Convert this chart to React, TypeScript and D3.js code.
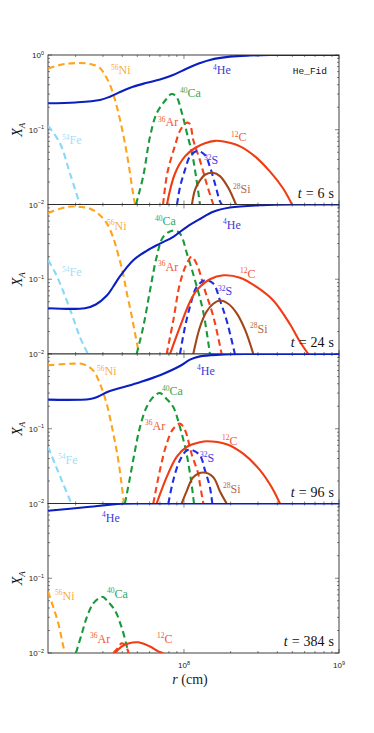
import React from "react";
import * as d3 from "d3";

const W = 374, H = 733;
const left = 48, right = 339, top0 = 55, panelH = 149.5;

type Pt = [number, number];

// t = 6 s
const he6: Pt[] = [[1.33e7,0.226],[2.0e7,0.232],[2.87e7,0.25],[3.33e7,0.277],[3.87e7,0.32],[4.69e7,0.377],[5.77e7,0.425],[7.0e7,0.47],[8.5e7,0.54],[1.045e8,0.66],[1.27e8,0.78],[1.47e8,0.86],[1.98e8,0.95],[2.67e8,0.985],[3.6e8,1.0],[1e9,1.0]];
const ni6: Pt[] = [[1.33e7,0.66],[1.71e7,0.76],[2.48e7,0.76],[2.87e7,0.67],[3.09e7,0.54],[3.33e7,0.40],[3.59e7,0.25],[3.87e7,0.135],[4.16e7,0.066],[4.42e7,0.032],[4.69e7,0.0142],[4.83e7,0.01]];
const fe6: Pt[] = [[1.33e7,0.113],[1.585e7,0.066],[1.84e7,0.026],[2.13e7,0.01]];
const ca6: Pt[] = [[4.9e7,0.01],[5.46e7,0.024],[6.04e7,0.081],[6.67e7,0.166],[7.73e7,0.26],[8.3e7,0.30],[8.9e7,0.28],[9.7e7,0.167],[1.045e8,0.09],[1.126e8,0.049],[1.195e8,0.024],[1.268e8,0.01]];
const ar6: Pt[] = [[7.33e7,0.01],[7.8e7,0.026],[8.7e7,0.059],[9.5e7,0.1],[1.04e8,0.124],[1.09e8,0.12],[1.148e8,0.073],[1.268e8,0.039],[1.40e8,0.019],[1.545e8,0.01]];
const c6: Pt[] = [[7.76e7,0.01],[8.75e7,0.026],[1.015e8,0.044],[1.178e8,0.057],[1.365e8,0.066],[1.585e8,0.071],[1.84e8,0.069],[2.30e8,0.06],[2.87e8,0.044],[3.59e8,0.0275],[4.35e8,0.0165],[4.98e8,0.01]];
const s6: Pt[] = [[9.02e7,0.01],[9.42e7,0.017],[1.015e8,0.029],[1.093e8,0.044],[1.213e8,0.052],[1.365e8,0.046],[1.47e8,0.032],[1.585e8,0.019],[1.707e8,0.011],[1.757e8,0.01]];
const si6: Pt[] = [[1.126e8,0.01],[1.178e8,0.0157],[1.268e8,0.021],[1.365e8,0.025],[1.538e8,0.0266],[1.707e8,0.024],[1.923e8,0.017],[2.165e8,0.01]];

// t = 24 s
const he24: Pt[] = [[1.33e7,0.041],[2.3e7,0.041],[2.7e7,0.046],[3.17e7,0.06],[3.5e7,0.08],[3.87e7,0.11],[4.71e7,0.18],[5.74e7,0.24],[7.0e7,0.30],[8.53e7,0.37],[1.04e8,0.5],[1.268e8,0.64],[1.545e8,0.80],[1.98e8,0.91],[3.2e8,0.98],[5.6e8,1.0],[1e9,1.0]];
const ni24: Pt[] = [[1.33e7,0.77],[1.76e7,0.93],[2.13e7,0.93],[2.48e7,0.88],[2.87e7,0.72],[3.18e7,0.56],[3.48e7,0.37],[3.75e7,0.22],[4.04e7,0.12],[4.29e7,0.064],[4.62e7,0.031],[4.83e7,0.019],[5.13e7,0.01]];
const fe24: Pt[] = [[1.33e7,0.18],[1.47e7,0.125],[1.65e7,0.072],[1.9e7,0.033],[2.13e7,0.017],[2.4e7,0.01]];
const ca24: Pt[] = [[4.95e7,0.01],[5.46e7,0.023],[6.04e7,0.071],[6.67e7,0.2],[7.35e7,0.37],[8.53e7,0.45],[9.42e7,0.41],[1.045e8,0.22],[1.178e8,0.097],[1.327e8,0.038],[1.47e8,0.01]];
const ar24: Pt[] = [[7.73e7,0.01],[8.53e7,0.028],[9.42e7,0.088],[1.04e8,0.16],[1.12e8,0.2],[1.208e8,0.16],[1.365e8,0.071],[1.545e8,0.032],[1.75e8,0.01]];
const c24: Pt[] = [[8.13e7,0.01],[9.42e7,0.023],[1.093e8,0.05],[1.208e8,0.071],[1.47e8,0.10],[1.8e8,0.113],[2.30e8,0.105],[2.94e8,0.079],[3.77e8,0.052],[4.83e8,0.025],[5.6e8,0.0146],[6.34e8,0.01]];
const s24: Pt[] = [[9.42e7,0.01],[1.015e8,0.023],[1.093e8,0.043],[1.208e8,0.079],[1.365e8,0.097],[1.545e8,0.088],[1.707e8,0.052],[1.885e8,0.028],[2.13e8,0.01]];
const si24: Pt[] = [[1.148e8,0.01],[1.268e8,0.023],[1.40e8,0.037],[1.545e8,0.047],[1.707e8,0.052],[1.93e8,0.047],[2.19e8,0.035],[2.48e8,0.021],[2.80e8,0.01]];

// t = 96 s
const he96: Pt[] = [[1.33e7,0.245],[2.48e7,0.25],[2.8e7,0.27],[3.2e7,0.31],[3.87e7,0.35],[5.2e7,0.42],[7.0e7,0.52],[9.42e7,0.69],[1.093e8,0.84],[1.268e8,0.93],[1.707e8,0.98],[2.55e8,1.0],[1e9,1.0]];
const ni96: Pt[] = [[1.33e7,0.706],[1.84e7,0.74],[2.24e7,0.73],[2.6e7,0.6],[2.87e7,0.40],[3.17e7,0.217],[3.50e7,0.086],[3.77e7,0.038],[3.96e7,0.018],[4.10e7,0.01]];
const fe96: Pt[] = [[1.33e7,0.057],[1.47e7,0.034],[1.625e7,0.0205],[1.84e7,0.011],[1.87e7,0.01]];
const ca96: Pt[] = [[4.16e7,0.01],[4.49e7,0.0225],[4.83e7,0.051],[5.2e7,0.105],[5.74e7,0.195],[6.34e7,0.265],[7.0e7,0.30],[7.73e7,0.25],[8.53e7,0.195],[9.42e7,0.105],[1.04e8,0.046],[1.12e8,0.018],[1.16e8,0.01]];
const ar96: Pt[] = [[6.34e7,0.01],[7.0e7,0.028],[7.73e7,0.063],[8.53e7,0.1],[9.42e7,0.117],[1.015e8,0.096],[1.12e8,0.046],[1.236e8,0.025],[1.268e8,0.018],[1.333e8,0.01]];
const c96: Pt[] = [[6.67e7,0.01],[7.73e7,0.0225],[8.97e7,0.042],[1.04e8,0.057],[1.268e8,0.066],[1.40e8,0.068],[1.885e8,0.062],[2.42e8,0.046],[3.09e8,0.028],[3.68e8,0.0165],[4.16e8,0.01]];
const s96: Pt[] = [[7.93e7,0.01],[8.53e7,0.0205],[9.42e7,0.038],[1.04e8,0.051],[1.12e8,0.052],[1.268e8,0.044],[1.365e8,0.028],[1.47e8,0.0165],[1.523e8,0.01]];
const si96: Pt[] = [[9.66e7,0.01],[1.04e8,0.0145],[1.148e8,0.0225],[1.333e8,0.026],[1.545e8,0.0225],[1.707e8,0.0145],[1.885e8,0.01]];

// t = 384 s
const he384: Pt[] = [[1.33e7,0.80],[2.3e7,0.89],[4.0e7,0.99],[6e7,1.0],[1e9,1.0]];
const ni384: Pt[] = [[1.33e7,0.066],[1.435e7,0.041],[1.546e7,0.025],[1.665e7,0.0123],[1.707e7,0.01]];
const ca384: Pt[] = [[2.01e7,0.01],[2.19e7,0.018],[2.36e7,0.030],[2.6e7,0.046],[2.87e7,0.055],[3.01e7,0.056],[3.17e7,0.051],[3.59e7,0.037],[3.96e7,0.022],[4.27e7,0.0125],[4.37e7,0.01]];
const ar384: Pt[] = [[3.5e7,0.01],[3.75e7,0.0117],[3.96e7,0.0135],[4.2e7,0.0125],[4.4e7,0.01]];
const c384: Pt[] = [[3.59e7,0.01],[3.96e7,0.0122],[4.37e7,0.0134],[5.07e7,0.0139],[6.04e7,0.0122],[6.82e7,0.0105],[7.35e7,0.01]];

const times = ["6", "24", "96", "384"];

const lineColor: Record<string, string> = {
  He: "#0b1fc0", Ni: "#ffa31a", Fe: "#86d9f7", Ca: "#179a3a",
  Ar: "#f4421b", C: "#f03c12", S: "#1f2ee6", Si: "#a2461a",
};
const textColor: Record<string, string> = {
  He: "#3b3bd6", Ni: "#f7ad3c", Fe: "#9fe0f8", Ca: "#34a65a",
  Ar: "#f25638", C: "#f25638", S: "#3b3be6", Si: "#b46a42",
};
const mass: Record<string, string> = { He: "4", Ni: "56", Fe: "54", Ca: "40", Ar: "36", C: "12", S: "32", Si: "28" };

type Series = { el: string; data: Pt[]; dashed: boolean };
const panels: Series[][] = [
  [{ el: "Fe", data: fe6, dashed: true }, { el: "Ni", data: ni6, dashed: true }, { el: "Ca", data: ca6, dashed: true }, { el: "Ar", data: ar6, dashed: true }, { el: "S", data: s6, dashed: true }, { el: "C", data: c6, dashed: false }, { el: "Si", data: si6, dashed: false }, { el: "He", data: he6, dashed: false }],
  [{ el: "Fe", data: fe24, dashed: true }, { el: "Ni", data: ni24, dashed: true }, { el: "Ca", data: ca24, dashed: true }, { el: "Ar", data: ar24, dashed: true }, { el: "S", data: s24, dashed: true }, { el: "C", data: c24, dashed: false }, { el: "Si", data: si24, dashed: false }, { el: "He", data: he24, dashed: false }],
  [{ el: "Fe", data: fe96, dashed: true }, { el: "Ni", data: ni96, dashed: true }, { el: "Ca", data: ca96, dashed: true }, { el: "Ar", data: ar96, dashed: true }, { el: "S", data: s96, dashed: true }, { el: "C", data: c96, dashed: false }, { el: "Si", data: si96, dashed: false }, { el: "He", data: he96, dashed: false }],
  [{ el: "Ni", data: ni384, dashed: true }, { el: "Ca", data: ca384, dashed: true }, { el: "Ar", data: ar384, dashed: true }, { el: "C", data: c384, dashed: false }, { el: "He", data: he384, dashed: false }],
];

// label placement: x (px), y centre relative to panel top
const labels: [string, number, number][][] = [
  [["Ni", 111, 15], ["He", 213, 15], ["Ca", 180, 38], ["Ar", 158, 67], ["Fe", 62, 85], ["C", 231, 82], ["S", 204, 105], ["Si", 233, 134]],
  [["Ni", 107, 21], ["Ca", 155, 16.5], ["He", 223, 20], ["Fe", 62, 67.5], ["Ar", 158, 62], ["C", 240, 69], ["S", 218, 86.5], ["Si", 250, 124]],
  [["Ni", 97, 17], ["He", 197, 16.5], ["Ca", 162, 37], ["Ar", 145, 71.5], ["C", 222, 86.5], ["S", 200, 103.5], ["Fe", 58, 105.5], ["Si", 223, 134.5]],
  [["He", 102, 14], ["Ni", 55, 92], ["Ca", 107, 90], ["Ar", 90, 135], ["C", 157, 135]],
];

const serif = "Liberation Serif, DejaVu Serif, serif";
const sans = "Liberation Sans, Arial, sans-serif";

const x = d3.scaleLog().domain([1.327e7, 1e9]).range([left, right]);
const isMajor = (v: number) => Math.abs(Math.log10(v) - Math.round(Math.log10(v))) < 1e-9;

const Pow = ({ px, py, exp, anchor }: { px: number; py: number; exp: string; anchor: string }) => (
  <text x={px} y={py} fontFamily={sans} fontSize={8} fill="#222" textAnchor={anchor}>
    10<tspan fontSize={5.5} dy={-3.5}>{exp}</tspan>
  </text>
);

const Panel = ({ i }: { i: number }) => {
  const top = top0 + i * panelH;
  const bottom = top + panelH;
  const y = d3.scaleLog().domain([0.01, 1]).range([bottom, top]);
  const line = d3.line<Pt>().x(d => x(d[0])).y(d => y(d[1])).curve(d3.curveCatmullRom.alpha(0.5));
  const xt = x.ticks();
  const yt = y.ticks();
  return (
    <g>
      <defs>
        <clipPath id={`clip${i}`}>
          <rect x={left} y={top} width={right - left} height={panelH} />
        </clipPath>
      </defs>
      <rect x={left} y={top} width={right - left} height={panelH} fill="white" stroke="#111" strokeWidth={0.8} />
      {xt.map((v, k) => {
        const L = isMajor(v) ? 4 : 2;
        return <g key={"x" + k} stroke="#333" strokeWidth={0.6}>
          <line x1={x(v)} x2={x(v)} y1={bottom} y2={bottom - L} />
          <line x1={x(v)} x2={x(v)} y1={top} y2={top + L} />
        </g>;
      })}
      {yt.map((v, k) => {
        const L = isMajor(v) ? 4 : 2;
        return <g key={"y" + k} stroke="#333" strokeWidth={0.6}>
          <line x1={left} x2={left + L} y1={y(v)} y2={y(v)} />
          <line x1={right} x2={right - L} y1={y(v)} y2={y(v)} />
        </g>;
      })}
      <g clipPath={`url(#clip${i})`}>
        {panels[i].map(s => (
          <path key={s.el} d={line(s.data) || ""} fill="none" stroke={lineColor[s.el]}
            strokeWidth={2.1} strokeDasharray={s.dashed ? "6.5,4" : undefined} />
        ))}
      </g>
      {i === 0 && <Pow px={44} py={y(1) + 3} exp="0" anchor="end" />}
      <Pow px={44} py={y(0.1) + 3} exp="−1" anchor="end" />
      <Pow px={44} py={y(0.01) + 3} exp="−2" anchor="end" />
      <text transform={`translate(22,${(top + bottom) / 2}) rotate(-90)`} textAnchor="middle" fontFamily={serif} fontSize={14} fill="#111">
        <tspan fontStyle="italic">X</tspan><tspan fontStyle="italic" fontSize={9} dy={3}>A</tspan>
      </text>
      {labels[i].map(([el, lx, ly]) => (
        <text key={el} x={lx} y={top + ly + 4} fontFamily={serif} fontSize={12} fill={textColor[el]}>
          <tspan fontSize={7.5} dy={-4.5}>{mass[el]}</tspan><tspan dy={4.5}>{el}</tspan>
        </text>
      ))}
      <text x={334} y={bottom - 7} textAnchor="end" fontFamily={serif} fontSize={14} fill="#111">
        <tspan fontStyle="italic">t</tspan><tspan dx={4}>=</tspan><tspan dx={4}>{times[i]}</tspan><tspan dx={4}>s</tspan>
      </text>
      {i === 0 && <text x={327} y={top + 19} textAnchor="end" fontFamily="Liberation Mono, DejaVu Sans Mono, monospace" fontSize={9.5} fill="#111">He_Fid</text>}
    </g>
  );
};

export default function App() {
  const bottom = top0 + 4 * panelH;
  return (
    <svg width={W} height={H} style={{ position: "absolute", left: 0, top: 0, background: "white" }}>
      {[0, 1, 2, 3].map(i => <Panel key={i} i={i} />)}
      <Pow px={x(1e8)} py={bottom + 15} exp="8" anchor="middle" />
      <Pow px={x(1e9)} py={bottom + 15} exp="9" anchor="middle" />
      <text x={190} y={bottom + 31} textAnchor="middle" fontFamily={serif} fontSize={14} fill="#222">
        <tspan fontStyle="italic">r</tspan> (cm)
      </text>
    </svg>
  );
}
